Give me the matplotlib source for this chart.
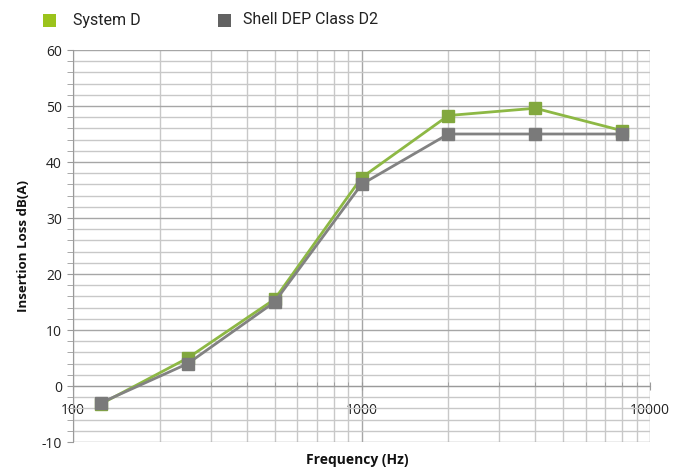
import matplotlib
matplotlib.use("Agg")
import matplotlib.pyplot as plt
from matplotlib.ticker import LogLocator, MultipleLocator, FixedLocator, NullFormatter
from matplotlib.patches import Rectangle

freq = [125, 250, 500, 1000, 2000, 4000, 8000]
system_d = [-3.2, 5.0, 15.5, 37.2, 48.3, 49.6, 45.6]
shell_d2 = [-3.0, 4.0, 15.0, 36.0, 45.0, 45.0, 45.0]
series_names = ["System D", "Shell DEP Class D2"]
x_ticks = [100, 1000, 10000]
x_tick_labels = ["100", "1000", "10000"]
y_ticks = [-10, 0, 10, 20, 30, 40, 50, 60]

green_line = "#8DB844"
green_mark = "#82A83E"
green_leg = "#9BC31C"
grey_line = "#828282"
grey_mark = "#7A7A7A"
grey_leg = "#626262"

plt.rcParams['font.family'] = ['Open Sans', 'DejaVu Sans']
plt.rcParams['axes.unicode_minus'] = False

fig = plt.figure(figsize=(6.85, 4.70), dpi=100)
ax = fig.add_axes([73/685, 1-442/470, (650-73)/685, (442-50)/470])

ax.set_xscale('log')
ax.set_xlim(100, 10000)
ax.set_ylim(-10, 60)

# grid
ax.xaxis.set_major_locator(FixedLocator(x_ticks))
ax.xaxis.set_minor_locator(LogLocator(base=10, subs=range(2, 10)))
ax.xaxis.set_minor_formatter(NullFormatter())
ax.set_xticklabels(x_tick_labels)
ax.yaxis.set_major_locator(FixedLocator(y_ticks))
ax.yaxis.set_minor_locator(MultipleLocator(2))

ax.grid(True, which='major', color='#A6A6A6', linewidth=1.0, zorder=0)
ax.grid(True, which='minor', color='#C8C8C8', linewidth=1.0, zorder=0)
ax.set_axisbelow(True)

for s in ['top', 'right']:
    ax.spines[s].set_visible(False)
ax.spines['left'].set_color('#9A9A9A')
ax.spines['bottom'].set_color('#9A9A9A')
ax.spines['bottom'].set_position(('data', 0))

ax.tick_params(axis='y', which='both', direction='out', length=4, color='#9A9A9A',
               labelsize=10, labelcolor='#222222', pad=4)
ax.tick_params(axis='x', which='major', direction='inout', length=6, color='#9A9A9A',
               labelsize=10, labelcolor='#222222', pad=9)
ax.tick_params(axis='x', which='minor', direction='in', length=3, color='#9A9A9A')

ax.plot(freq, system_d, color=green_line, linewidth=2, marker='s', markersize=8.5,
        markerfacecolor=green_mark, markeredgecolor=green_mark, zorder=3, clip_on=False)
ax.plot(freq, shell_d2, color=grey_line, linewidth=2, marker='s', markersize=8.5,
        markerfacecolor=grey_mark, markeredgecolor=grey_mark, zorder=4, clip_on=False)

ax.set_ylabel("Insertion Loss dB(A)", fontsize=9.5, fontweight='bold', color='#111111', labelpad=8)
fig.text(357/685, 1-460/470, "Frequency (Hz)", fontsize=10, fontweight='bold',
         color='#111111', ha='center', va='center')

# legend
fig.patches.append(Rectangle((43/685, 1-27/470), 13/685, 13/470, transform=fig.transFigure,
                             facecolor=green_leg, edgecolor='none'))
fig.text(73/685, 1-20/470, series_names[0], fontsize=11.5, color='#222222', va='center',
         family=['Roboto', 'DejaVu Sans'])
fig.patches.append(Rectangle((218/685, 1-27/470), 13/685, 13/470, transform=fig.transFigure,
                             facecolor=grey_leg, edgecolor='none'))
fig.text(243/685, 1-20/470, series_names[1], fontsize=11.5, color='#222222', va='center',
         family=['Roboto', 'DejaVu Sans'])

fig.savefig("out.png", dpi=100)
